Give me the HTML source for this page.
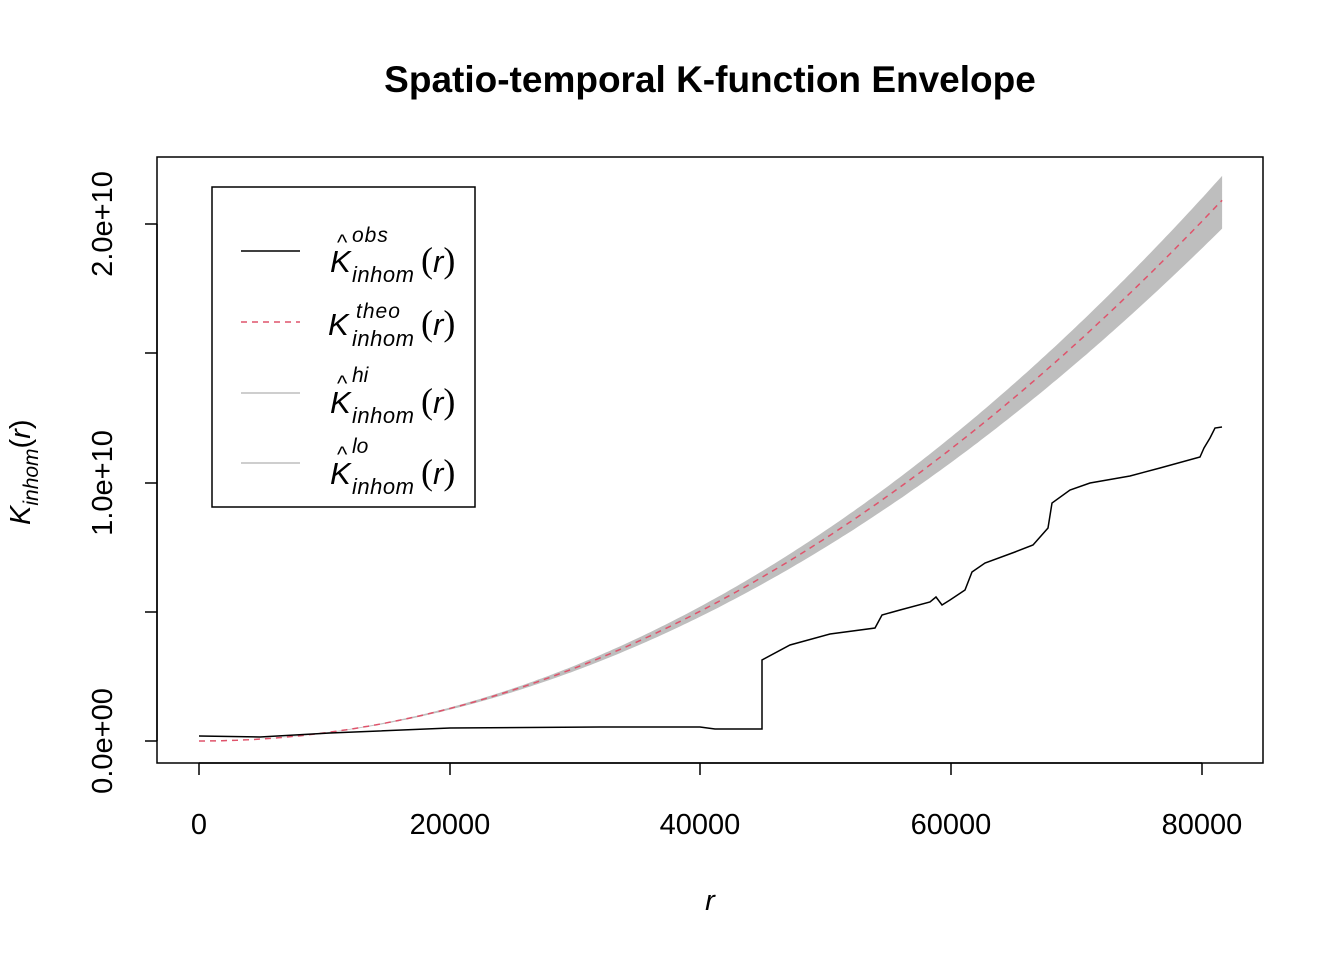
<!DOCTYPE html>
<html><head><meta charset="utf-8"><style>
body{margin:0;background:#fff;}
text{font-family:"Liberation Sans",sans-serif;}
.p{font-family:"Liberation Serif",serif;font-style:normal;font-size:36px;}
</style></head><body>
<svg id="s" width="1344" height="960" xmlns="http://www.w3.org/2000/svg">
<rect width="1344" height="960" fill="#fff"/>
<text x="710" y="92" text-anchor="middle" font-size="37" font-weight="bold">Spatio-temporal K-function Envelope</text>
<path id="band" fill="#bebebe" stroke="none"/>
<path id="theo" fill="none" stroke="#df536b" stroke-width="1.5" stroke-dasharray="6,5"/>
<path id="obs" fill="none" stroke="#000" stroke-width="1.5"/>
<rect x="157" y="157" width="1106" height="606" fill="none" stroke="#000" stroke-width="1.5"/>
<g stroke="#000" stroke-width="1.5">
<line x1="199" y1="763" x2="1202" y2="763"/>
<line x1="199" y1="763" x2="199" y2="775"/><line x1="450" y1="763" x2="450" y2="775"/><line x1="700" y1="763" x2="700" y2="775"/><line x1="951" y1="763" x2="951" y2="775"/><line x1="1202" y1="763" x2="1202" y2="775"/>
<line x1="157" y1="224" x2="157" y2="741"/>
<line x1="145" y1="741" x2="157" y2="741"/><line x1="145" y1="612" x2="157" y2="612"/><line x1="145" y1="483" x2="157" y2="483"/><line x1="145" y1="353" x2="157" y2="353"/><line x1="145" y1="224" x2="157" y2="224"/>
</g>
<g font-size="29" text-anchor="middle">
<text x="199" y="834">0</text><text x="450" y="834">20000</text><text x="700" y="834">40000</text><text x="951" y="834">60000</text><text x="1202" y="834">80000</text>
<text transform="translate(112,741) rotate(-90)">0.0e+00</text>
<text transform="translate(112,483) rotate(-90)">1.0e+10</text>
<text transform="translate(112,224) rotate(-90)">2.0e+10</text>
</g>
<text x="710" y="910" font-size="29" font-style="italic" text-anchor="middle">r</text>
<text transform="translate(30,525) rotate(-90)" font-size="29" font-style="italic">K<tspan font-size="21" dy="8">inhom</tspan><tspan dy="-8" font-style="normal">(</tspan>r<tspan font-style="normal">)</tspan></text>
<rect x="212" y="187" width="263" height="320" fill="#fff" stroke="#000" stroke-width="1.5"/>
<line x1="241" y1="251" x2="300" y2="251" stroke="#000" stroke-width="1.5"/>
<line x1="241" y1="322" x2="300" y2="322" stroke="#df536b" stroke-width="1.5" stroke-dasharray="6,5"/>
<line x1="241" y1="393" x2="300" y2="393" stroke="#bebebe" stroke-width="1.5"/>
<line x1="241" y1="463" x2="300" y2="463" stroke="#bebebe" stroke-width="1.5"/>
<g font-size="31" font-style="italic">
<text x="330" y="272">K</text><text x="337" y="250" font-style="normal" font-size="22">^</text><text x="352" y="242" font-size="21" letter-spacing="1">obs</text><text x="352" y="282" font-size="22" letter-spacing="0.5">inhom</text><text x="421" y="272"><tspan class="p">(</tspan>r<tspan class="p">)</tspan></text>
<text x="328" y="335">K</text><text x="356" y="318" font-size="21" letter-spacing="1">theo</text><text x="352" y="346" font-size="22" letter-spacing="0.5">inhom</text><text x="421" y="335"><tspan class="p">(</tspan>r<tspan class="p">)</tspan></text>
<text x="330" y="413">K</text><text x="337" y="391" font-style="normal" font-size="22">^</text><text x="352" y="382" font-size="21">hi</text><text x="352" y="423" font-size="22" letter-spacing="0.5">inhom</text><text x="421" y="413"><tspan class="p">(</tspan>r<tspan class="p">)</tspan></text>
<text x="330" y="484">K</text><text x="337" y="462" font-style="normal" font-size="22">^</text><text x="352" y="453" font-size="21">lo</text><text x="352" y="494" font-size="22" letter-spacing="0.5">inhom</text><text x="421" y="484"><tspan class="p">(</tspan>r<tspan class="p">)</tspan></text>
</g>
</svg>
<script>
function X(r){return 199+r*0.0125375;}
function Y(k){return 741-k*258.5e-10;}
var up=[],dn=[],th=[];
for(var r=0;r<=81700;r+=300){var k=Math.PI*r*r;var d=0.05*k*(0.6+0.4*r/81700);
up.push(X(r).toFixed(1)+","+Y(k+d*0.9).toFixed(1));dn.unshift(X(r).toFixed(1)+","+Y(k-d*1.05).toFixed(1));th.push(X(r).toFixed(1)+","+Y(k).toFixed(1));}
document.getElementById("band").setAttribute("d","M"+up.join("L")+"L"+dn.join("L")+"Z");
document.getElementById("theo").setAttribute("d","M"+th.join("L"));
var o=[[199,736],[260,737],[330,733],[450,728],[600,727],[700,727],[715,729],[762,729],[762,660],[790,645],[830,634],[875,628],[882,615],[900,610],[930,602],[936,597],[942,605],[950,600],[965,590],[972,572],[985,563],[1015,552],[1033,545],[1048,528],[1052,503],[1070,490],[1090,483],[1130,476],[1160,468],[1200,457],[1204,448],[1210,438],[1215,428],[1222,427]];
document.getElementById("obs").setAttribute("d","M"+o.map(function(p){return p.join(",")}).join("L"));
</script>
</body></html>
